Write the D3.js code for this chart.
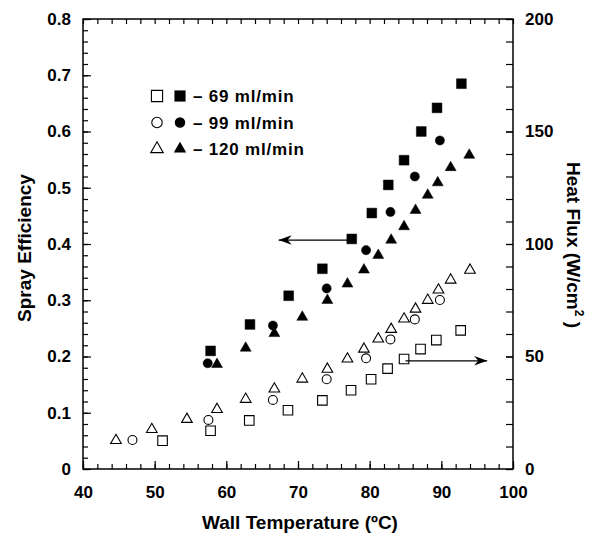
<!DOCTYPE html>
<html><head><meta charset="utf-8">
<script src="https://cdn.jsdelivr.net/npm/d3@7"></script>
<style>body{margin:0;background:#fff}svg{display:block}text{font-family:"Liberation Sans",Arial,sans-serif;font-weight:bold;fill:#000}</style>
</head><body><svg id="c" width="602" height="535"></svg>
<script>
// ---- data ----
const xTicks = [40,50,60,70,80,90,100];
const effTicks = [0,0.1,0.2,0.3,0.4,0.5,0.6,0.7,0.8];
const hfTicks = [0,50,100,150,200];
const effLabels = ["0","0.1","0.2","0.3","0.4","0.5","0.6","0.7","0.8"];

const effTemp69 = [57.8,63.3,68.7,73.4,77.5,80.3,82.6,84.8,87.2,89.4,92.8];
const eff69 = [0.210,0.257,0.308,0.356,0.409,0.455,0.505,0.549,0.600,0.642,0.685];
const effTemp99 = [57.4,66.5,74.0,79.5,82.9,86.3,89.8];
const eff99 = [0.188,0.255,0.321,0.389,0.457,0.520,0.584];
const effTemp120 = [58.7,62.7,66.7,70.6,74.1,76.9,79.2,81.2,83.0,84.8,86.4,88.1,89.5,91.3,93.9];
const eff120 = [0.186,0.215,0.241,0.270,0.300,0.329,0.354,0.380,0.407,0.431,0.460,0.487,0.509,0.536,0.558];

const hfTemp69 = [51.1,57.8,63.2,68.6,73.4,77.4,80.2,82.5,84.8,87.1,89.3,92.7];
const hf69 = [12.6,17.0,21.6,26.1,30.5,35.0,39.9,44.6,48.9,53.3,57.3,61.6];
const hfTemp99 = [46.9,57.5,66.5,74.0,79.5,82.9,86.3,89.8];
const hf99 = [12.9,21.8,30.7,39.9,49.2,57.6,66.5,75.1];
const hfTemp120 = [44.6,49.6,54.5,58.7,62.7,66.7,70.6,74.1,76.9,79.2,81.2,83.0,84.8,86.4,88.1,89.6,91.3,94.0];
const hf120 = [12.7,17.6,22.1,26.5,31.0,35.6,40.0,44.4,48.9,53.3,57.8,62.1,66.7,71.1,75.0,79.6,84.0,88.4];

const legendLabels = ["– 69 ml/min","– 99 ml/min","– 120 ml/min"];
const arrowEff = [[77.0,0.407],[67.3,0.407]];
const arrowHF = [[85.0,48.1],[96.4,48.1]];

// ---- layout ----
const L=83,R=513,T=19,B=469;
const svg=d3.select("#c");
const x=d3.scaleLinear().domain([40,100]).range([L,R]);
const yE=d3.scaleLinear().domain([0,0.8]).range([B,T]);
const yH=d3.scaleLinear().domain([0,200]).range([B,T]);

const minorX=d3.range(40,100.01,2);
const minorE=d3.range(0,0.801,0.02);
const minorH=d3.range(0,200.1,10);

function styleAxis(g){g.select(".domain").remove();g.selectAll("line").attr("stroke","#000").attr("stroke-width",1.2);g.selectAll("text").style("font-size","17px").style("font-family","'Liberation Sans',Arial,sans-serif").style("font-weight","bold");}

// minor ticks
svg.append("g").attr("transform",`translate(0,${B})`).call(d3.axisBottom(x).tickValues(minorX).tickSize(-5).tickFormat("")).call(styleAxis);
svg.append("g").attr("transform",`translate(0,${T})`).call(d3.axisTop(x).tickValues(minorX).tickSize(-5).tickFormat("")).call(styleAxis);
svg.append("g").attr("transform",`translate(${L},0)`).call(d3.axisLeft(yE).tickValues(minorE).tickSize(-5).tickFormat("")).call(styleAxis);
svg.append("g").attr("transform",`translate(${R},0)`).call(d3.axisRight(yH).tickValues(minorH).tickSize(-7).tickFormat("")).call(styleAxis);
// major ticks + labels
svg.append("g").attr("transform",`translate(0,${B})`).call(d3.axisBottom(x).tickValues(xTicks).tickSize(-8).tickPadding(17).tickFormat(d3.format("d"))).call(styleAxis);
svg.append("g").attr("transform",`translate(${L},0)`).call(d3.axisLeft(yE).tickValues(effTicks).tickSize(-8).tickPadding(12).tickFormat((d,i)=>effLabels[i])).call(styleAxis);
svg.append("g").attr("transform",`translate(${R},0)`).call(d3.axisRight(yH).tickValues(hfTicks).tickSize(-7).tickPadding(12).tickFormat(d3.format("d"))).call(styleAxis);

// frame
svg.append("path").attr("d",`M${L},${T}V${B}H${R}V${T}Z`).attr("fill","none").attr("stroke","#000").attr("stroke-width",1.5);

// titles
svg.append("text").attr("transform",`translate(31,248) rotate(-90)`).attr("text-anchor","middle").style("font-size","19px").text("Spray Efficiency");
svg.append("text").attr("x",300).attr("y",529).attr("text-anchor","middle").style("font-size","19px").text("Wall Temperature (ºC)");
const ht=svg.append("text").attr("transform",`translate(567,245) rotate(90)`).attr("text-anchor","middle").style("font-size","19px");
ht.append("tspan").text("Heat Flux (W/cm");
ht.append("tspan").attr("dy",-8).style("font-size","12px").text("2");
ht.append("tspan").attr("dy",8).text(" )");

// markers
const shapes=[d3.symbolSquare,d3.symbolCircle,d3.symbolTriangle];
const sizes=[96,66,52];
function plot(xs,ys,yScale,k,filled){
  svg.append("g").selectAll("path").data(xs).join("path")
   .attr("transform",(d,i)=>`translate(${x(d)},${yScale(ys[i])})`)
   .attr("d",d3.symbol(shapes[k],filled?sizes[k]:sizes[k]*0.95))
   .attr("fill",filled?"#000":"#fff").attr("stroke","#000").attr("stroke-width",filled?0.5:1.1);
}
plot(hfTemp69,hf69,yH,0,false);plot(hfTemp99,hf99,yH,1,false);plot(hfTemp120,hf120,yH,2,false);
plot(effTemp69,eff69,yE,0,true);plot(effTemp99,eff99,yE,1,true);plot(effTemp120,eff120,yE,2,true);

// arrows
const defs=svg.append("defs");
defs.append("marker").attr("id","ah").attr("viewBox","-14 -5 15 10").attr("refX",0).attr("refY",0)
 .attr("markerWidth",15).attr("markerHeight",10).attr("markerUnits","userSpaceOnUse").attr("orient","auto")
 .append("path").attr("d","M0,0L-13,-4.8L-9,0L-13,4.8Z").attr("fill","#000");
svg.append("line").attr("x1",x(arrowEff[0][0])).attr("y1",yE(arrowEff[0][1])).attr("x2",x(arrowEff[1][0])).attr("y2",yE(arrowEff[1][1]))
 .attr("stroke","#000").attr("stroke-width",1.2).attr("marker-end","url(#ah)");
svg.append("line").attr("x1",x(arrowHF[0][0])).attr("y1",yH(arrowHF[0][1])).attr("x2",x(arrowHF[1][0])).attr("y2",yH(arrowHF[1][1]))
 .attr("stroke","#000").attr("stroke-width",1.2).attr("marker-end","url(#ah)");

// legend
const lg=svg.append("g");
legendLabels.forEach((t,i)=>{
  const yy=96+i*26.5;
  lg.append("path").attr("transform",`translate(157,${yy})`).attr("d",d3.symbol(shapes[i],sizes[i]*1.3)).attr("fill","#fff").attr("stroke","#000").attr("stroke-width",1.1);
  lg.append("path").attr("transform",`translate(180,${yy})`).attr("d",d3.symbol(shapes[i],sizes[i]*1.3)).attr("fill","#000");
  lg.append("text").attr("x",193).attr("y",yy+6).style("font-size","17px").style("letter-spacing","0.8px").text(t);
});
</script></body></html>
